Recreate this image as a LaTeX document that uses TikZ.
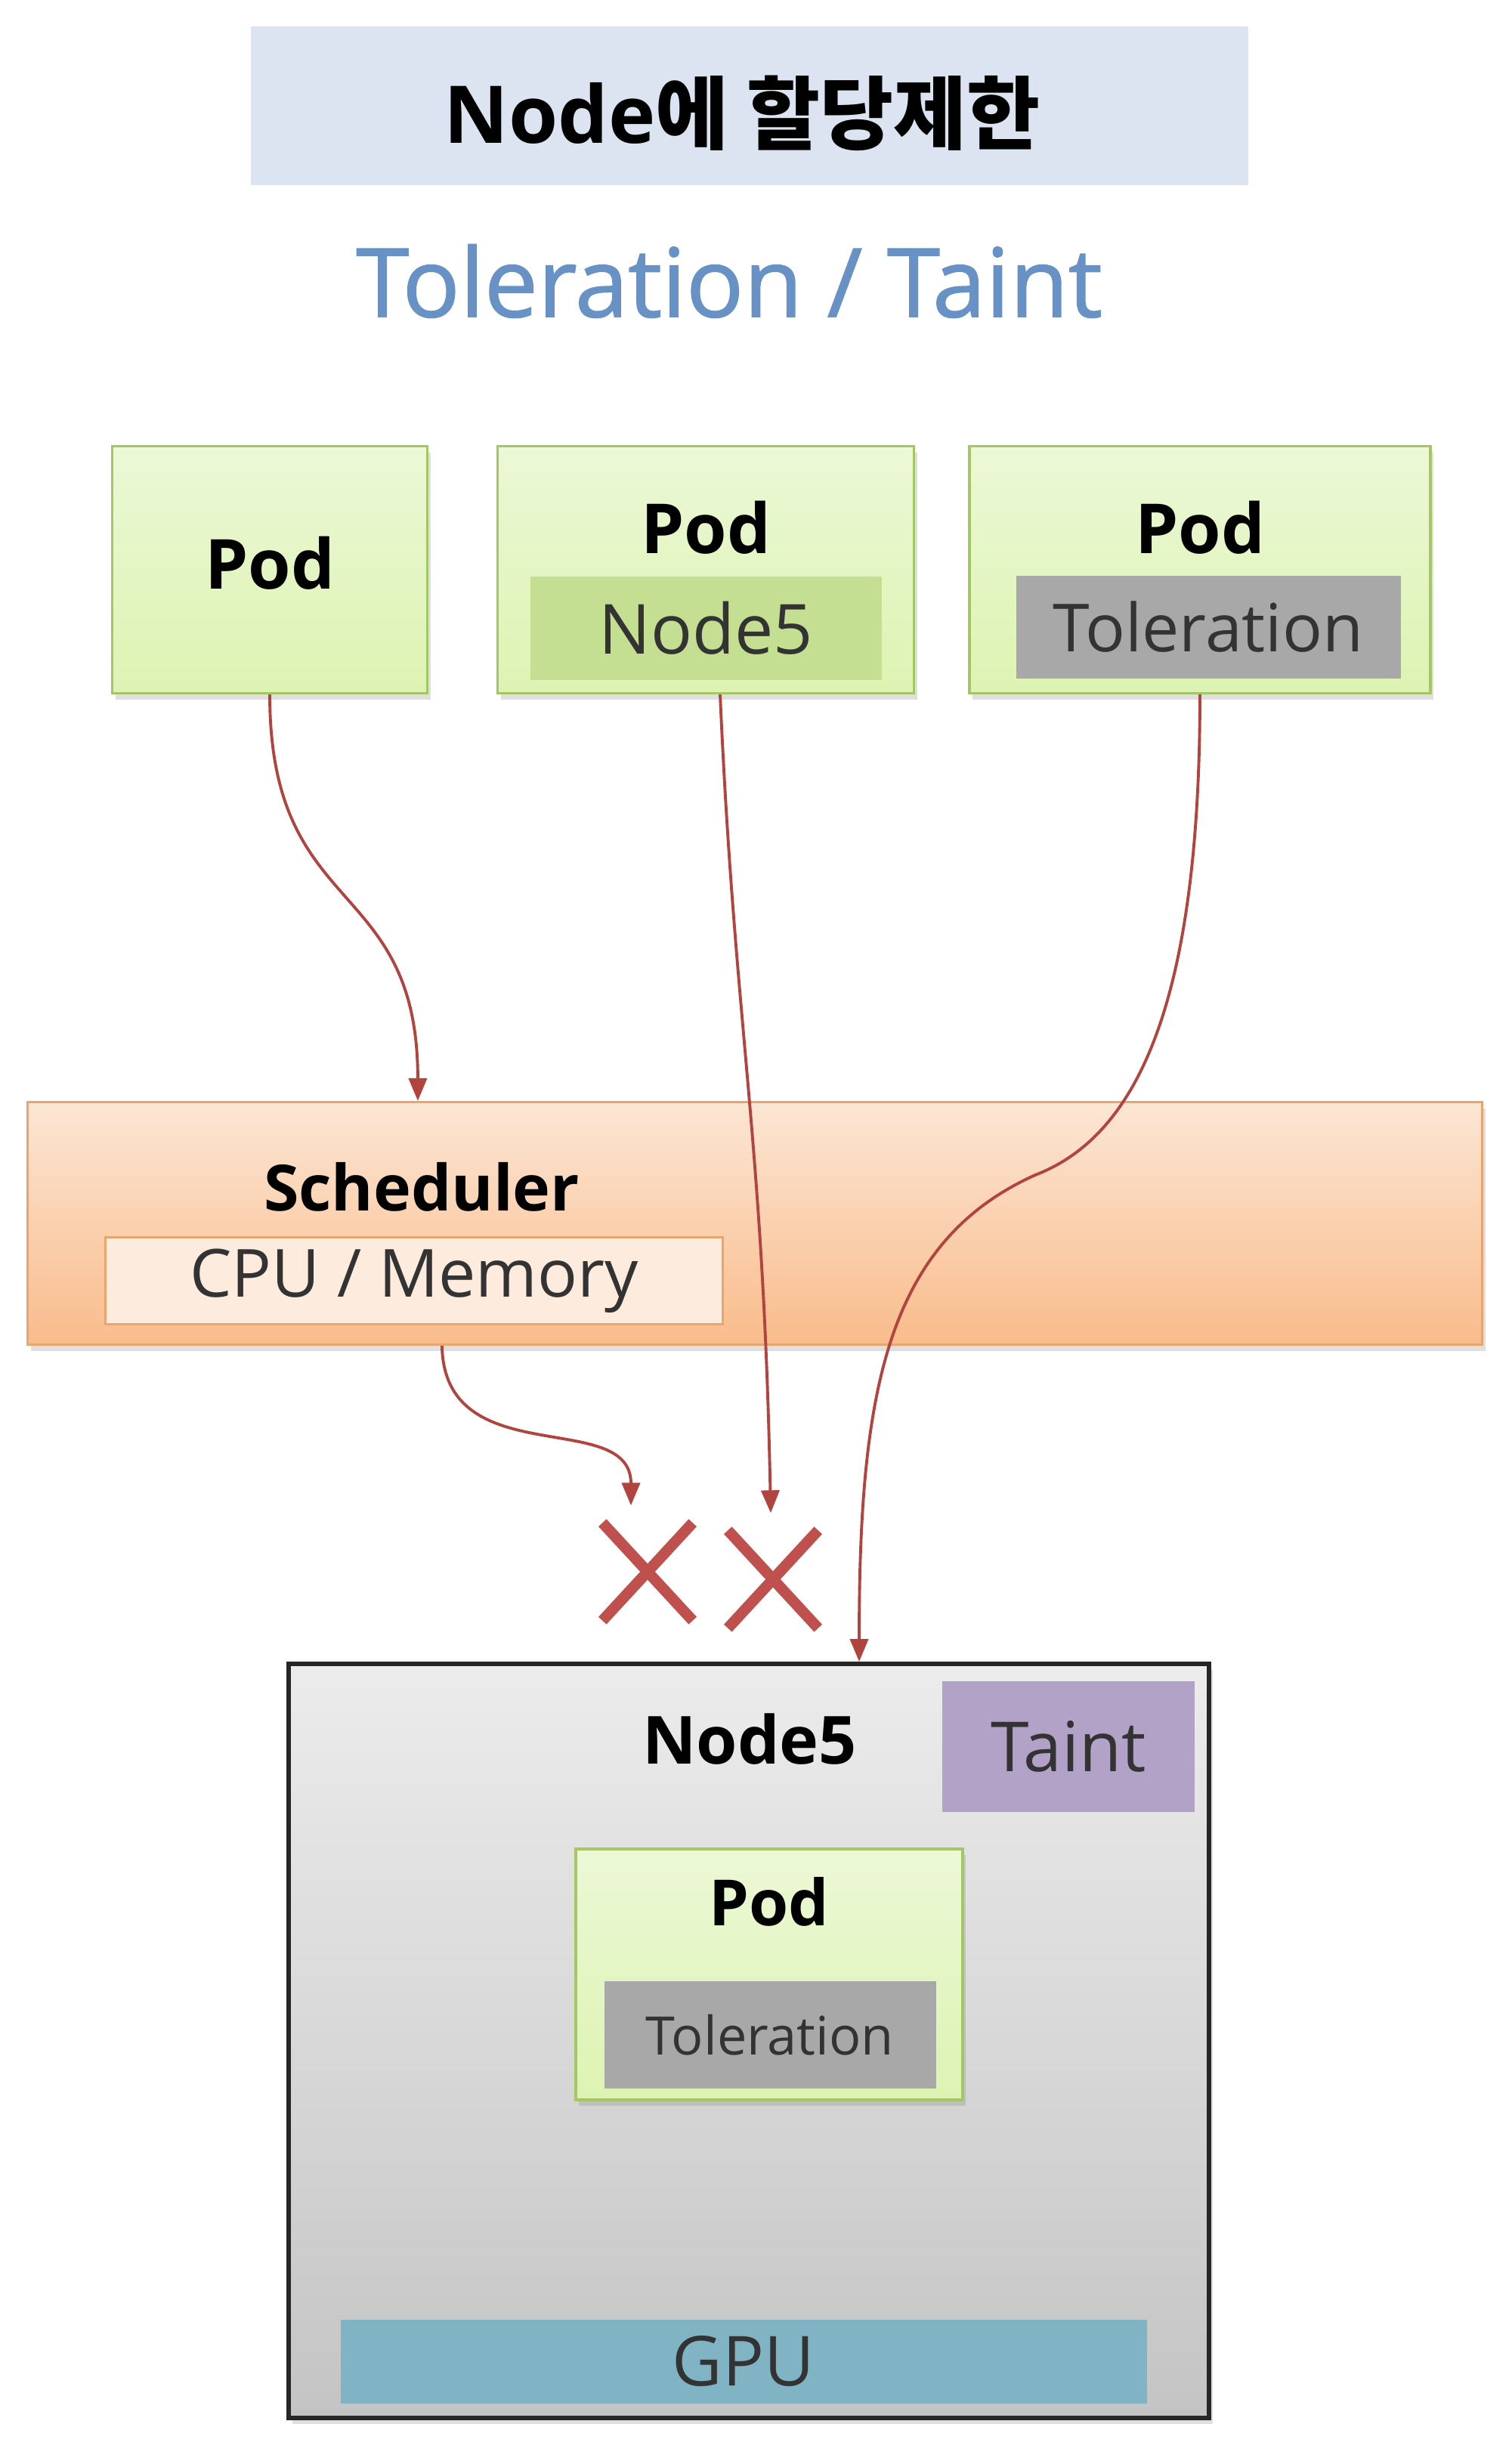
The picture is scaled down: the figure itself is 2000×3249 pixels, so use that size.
\documentclass[tikz,border=0pt]{standalone}
\usepackage{fontspec}
\setmainfont{Open Sans}
\newfontfamily\krfont{Noto Sans CJK KR}
\newfontfamily\semifont[FakeBold=1.2]{Open Sans}
\usetikzlibrary{arrows.meta,calc,shadows,shapes.misc}

\definecolor{titlebg}{RGB}{219,228,240}
\definecolor{subblue}{RGB}{104,146,198}
\definecolor{podtop}{RGB}{236,248,214}
\definecolor{podbot}{RGB}{221,243,178}
\definecolor{podline}{RGB}{165,198,100}
\definecolor{nodesel}{RGB}{196,222,146}
\definecolor{tolgray}{RGB}{168,168,168}
\definecolor{schedtop}{RGB}{252,230,212}
\definecolor{schedbot}{RGB}{249,188,140}
\definecolor{schedline}{RGB}{232,165,110}
\definecolor{cpufill}{RGB}{253,236,222}
\definecolor{arrred}{RGB}{178,68,64}
\definecolor{xred}{RGB}{192,80,77}
\definecolor{nodetop}{RGB}{236,236,236}
\definecolor{nodebot}{RGB}{196,196,196}
\definecolor{taintbg}{RGB}{178,162,199}
\definecolor{gpubg}{RGB}{128,180,197}

\tikzset{
  fs/.style={font=\fontsize{#1}{#1}\selectfont},
  bfs/.style={font=\fontsize{#1}{#1}\selectfont\bfseries},
  pod/.style={draw=podline, line width=0.9pt, top color=podtop, bottom color=podbot,
    drop shadow={shadow xshift=0.4mm, shadow yshift=-0.8mm, opacity=0.25}, inner sep=0pt},
  podtxt/.style={bfs=#1, inner sep=0pt},
  podtxt/.default=26,
  selbox/.style={fill=nodesel, inner sep=0pt, fs=26, text=black!80},
  tolbox/.style={fill=tolgray, inner sep=0pt, fs=#1, text=black!80},
  tolbox/.default=25,
  flow/.style={draw=arrred, line width=1.1pt, -{Triangle[length=3mm,width=2.4mm]}},
  xmark/.style={cross out, draw=xred, line width=4.1pt, minimum width=10.5mm, minimum height=11.5mm, inner sep=0pt}
}

\begin{document}
\begin{tikzpicture}[x=0.1mm,y=-0.1mm]
	\fill[white] (0,0) rectangle (2000,3249);
	\useasboundingbox (0,0) rectangle (2000,3249);
	
	% title
	\node[fill=titlebg, minimum width=132mm, minimum height=21mm] (title) at (992,140) {};
	\node[bfs=30, inner sep=0pt] (titletxt) at (982,150) {Node{\krfont\bfseries 에 할당제한}};
	\node[fs=36, text=subblue, inner sep=0pt] (sub) at (965,372) {\semifont Toleration / Taint};
	
	% pods
	\node[pod, minimum width=41.7mm, minimum height=32.7mm] (p1) at (357,754) {};
	\node[podtxt] (p1t) at (357,745) {Pod};
	
	\node[pod, minimum width=55.1mm, minimum height=32.7mm] (p2) at (934,754) {};
	\node[podtxt] (p2t) at (934,698) {Pod};
	\node[selbox, minimum width=46.5mm, minimum height=13.7mm] (p2sel) at (934,831) {Node5};
	
	\node[pod, minimum width=61mm, minimum height=32.7mm] (p3) at (1588,754) {};
	\node[podtxt] (p3t) at (1588,698) {Pod};
	\node[tolbox, minimum width=50.9mm, minimum height=13.6mm] (p3tol) at (1599,830) {Toleration};
	
	% scheduler
	\node[draw=schedline, line width=0.9pt, top color=schedtop, bottom color=schedbot,
	drop shadow={shadow xshift=0.4mm, shadow yshift=-0.8mm, opacity=0.25},
	minimum width=192.5mm, minimum height=32.1mm] (sched) at (999,1619) {};
	\node[bfs=24, inner sep=0pt] (schedt) at (558,1571) {Scheduler};
	\node[draw=schedline, line width=0.9pt, fill=cpufill, minimum width=81.7mm, minimum height=11.5mm,
	fs=25, text=black!80, inner sep=0pt] (cpu) at (548,1695) {CPU / Memory};
	
	% rejected
	\node[xmark] (x1) at (857,2080) {};
	\node[xmark] (x2) at (1023,2090) {};
	
	% node5
	\node[draw=black!85, line width=1.7pt, top color=nodetop, bottom color=nodebot,
	drop shadow={shadow xshift=0.5mm, shadow yshift=-0.8mm, opacity=0.25},
	minimum width=121.8mm, minimum height=99.8mm] (n5) at (991,2701) {};
	\node[bfs=25, inner sep=0pt] (n5t) at (992,2302) {Node5};
	\node[fill=taintbg, minimum width=33.4mm, minimum height=17.3mm, fs=26, text=black!80] (taint) at (1414,2311) {Taint};
	\node[pod, minimum width=51.2mm, minimum height=33.2mm] (ip) at (1018,2613) {};
	\node[podtxt=24] (ipt) at (1018,2517) {Pod};
	\node[tolbox=20, minimum width=43.9mm, minimum height=14.2mm] (iptol) at (1019,2693) {Toleration};
	\node[fill=gpubg, minimum width=106.7mm, minimum height=11.1mm, fs=26, text=black!80] (gpu) at (984,3125) {GPU};
	
	% connectors
	\draw[flow] (p1.south) .. controls +(0,300) and +(0,-300) .. ($(sched.north west)+(518,0)$);
	\draw[flow] ($(p2.south)+(19,0)$) .. controls +(20,450) and +(-10,-500) .. ($(x2.north)+(-3,-23)$);
	\draw[flow] (p3.south) .. controls +(0,420) and +(130,-50) .. (1370,1555)
	.. controls +(-200,90) and +(0,-350) .. ($(n5.north west)+(758,0)$);
	\draw[flow] ($(sched.south west)+(550,0)$) .. controls +(3,170) and +(0,-130) .. ($(x1.north)+(-22,-23)$);
	
\end{tikzpicture}
\end{document}
